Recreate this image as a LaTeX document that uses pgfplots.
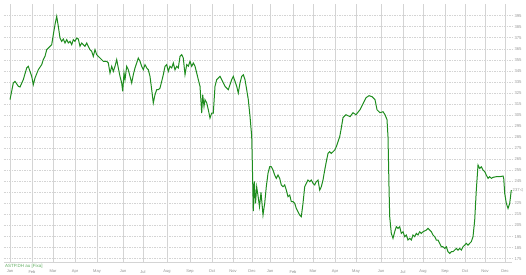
\documentclass[border=0pt]{standalone}
\usepackage{pgfplots}
\pgfplotsset{compat=1.18}
\usepackage{fontspec}
\setmainfont{Liberation Sans}
\definecolor{linegreen}{RGB}{30,140,30}
\definecolor{gridgray}{RGB}{212,212,212}
\begin{document}
\begin{tikzpicture}
\useasboundingbox (-4pt,-13pt) rectangle (522pt,262pt);
\begin{axis}[
  at={(0,0)}, anchor=south west,
  x=1pt, y=1.105pt,
  xmin=4, xmax=512, ymin=172, ymax=405.5,
  axis x line*=bottom, axis y line*=right,
  x axis line style={gridgray,-}, y axis line style={draw=none},
  xtick={10,32,53,75,97,123,143,167,190,212,233,252,270,293,313,335,356,381,403,423,445,465,485,505},
  xticklabels={Jan,Feb,Mar,Apr,May,Jun,Jul,Aug,Sep,Oct,Nov,Dec,Jan,Feb,Mar,Apr,May,Jun,Jul,Aug,Sep,Oct,Nov,Dec},
  xticklabel style={font=\fontsize{4}{4.5}\selectfont, text=gray!90, anchor=north, inner sep=0pt, yshift=-8pt},
  ytick={175,185,195,205,215,225,245,255,265,275,285,295,305,315,325,335,345,355,365,375,385,395},
  extra y ticks={235},
  extra y tick labels={},
  extra y tick style={grid=major},
  major tick length=0pt,
  grid=major,
  x grid style={gridgray, line width=0.4pt},
  y grid style={gridgray, line width=0.4pt, dash pattern=on 1.5pt off 1pt},
  yticklabel style={font=\fontsize{4.2}{5}\selectfont, text=gray!80, xshift=-1pt},
  /pgf/number format/assume math mode=true,
  clip=false,
]
\addplot[linegreen, line width=1pt] table {
x v
10.0 318.9
13.3 334.0
15.0 335.5
18.3 331.0
20.0 330.4
23.3 337.0
26.7 347.6
28.3 349.1
31.7 340.0
33.3 332.5
35.0 338.5
38.3 346.0
41.7 350.6
43.3 355.1
45.0 358.1
46.7 364.1
50.0 367.2
51.7 368.7
53.3 377.7
55.0 386.8
56.7 394.3
58.3 385.3
60.0 374.7
61.7 371.7
63.3 373.8
65.0 370.2
66.7 373.2
68.3 370.2
70.0 371.7
71.7 368.7
73.3 373.2
75.0 371.7
76.7 374.7
78.3 373.8
80.0 367.2
81.7 370.2
83.3 368.7
85.0 367.2
86.7 370.2
88.3 367.2
90.0 364.1
91.7 362.6
93.3 358.1
95.0 364.1
96.7 359.6
98.3 358.1
100.0 356.6
101.7 355.1
103.3 353.6
106.7 353.6
108.3 352.1
110.0 343.0
111.7 349.1
113.3 344.5
115.0 349.1
116.7 355.1
118.3 347.6
120.0 340.0
121.7 334.0
122.7 326.4
124.0 343.0
125.0 337.0
126.7 349.1
128.3 346.0
130.0 340.0
131.7 334.0
133.3 341.5
135.0 347.6
136.7 352.1
138.3 356.6
140.0 353.6
141.7 349.1
143.3 346.0
145.0 350.6
146.7 347.6
148.3 346.0
150.0 340.0
151.7 327.9
153.3 315.9
155.0 323.4
156.7 327.9
158.3 327.9
160.0 329.4
161.7 335.5
163.3 341.5
165.0 349.1
166.7 350.6
168.3 344.5
170.0 349.1
171.7 347.6
173.3 352.1
175.0 346.0
176.7 349.1
178.3 347.6
180.0 358.1
181.7 359.6
183.3 356.6
185.0 341.5
186.7 350.6
188.3 349.1
190.0 353.6
191.7 349.1
193.3 352.1
195.0 349.1
196.7 343.0
198.3 337.0
200.0 331.0
201.7 306.8
202.7 323.4
204.0 312.8
205.0 318.9
206.7 315.9
208.3 309.8
210.0 302.3
211.7 306.8
213.3 306.8
215.0 331.0
216.7 337.0
218.3 338.5
220.0 340.0
221.7 337.0
223.3 334.0
225.0 331.0
226.7 329.4
228.3 327.9
230.0 332.5
231.7 337.0
233.3 340.0
235.0 335.5
236.7 331.0
238.3 324.9
240.0 334.0
241.7 340.0
243.3 341.5
245.0 337.0
246.7 327.9
248.3 318.9
250.0 303.8
251.7 285.7
252.3 262.0
253.3 218.0
254.3 245.0
255.5 225.0
256.7 240.0
258.0 232.0
259.5 222.0
261.0 235.0
262.0 225.0
263.0 214.5
264.7 225.1
266.3 240.2
268.0 252.2
269.7 258.2
271.3 258.2
273.0 255.2
274.7 250.7
276.3 247.7
278.0 250.7
279.7 247.7
281.3 241.7
283.0 240.1
284.7 241.7
286.3 237.1
288.0 231.1
289.7 232.6
291.3 226.6
293.0 226.6
294.7 225.1
296.3 220.5
298.0 217.5
299.7 214.5
301.3 213.0
303.0 225.1
304.7 240.1
306.3 243.2
308.0 246.2
309.7 244.7
311.3 246.2
313.0 243.2
314.7 241.7
316.3 244.7
318.0 246.2
319.7 237.1
321.3 240.1
323.0 246.2
324.7 255.2
326.3 262.8
328.0 270.3
329.7 271.8
331.3 270.3
333.0 271.8
334.7 273.3
336.3 276.3
338.0 280.9
339.7 285.4
341.0 291.7
343.0 302.6
346.0 305.3
350.0 303.5
353.0 307.1
356.0 305.3
360.0 309.8
363.0 315.3
366.0 320.7
369.0 322.5
372.0 321.6
375.0 318.9
377.0 309.8
380.0 307.1
383.0 308.0
385.0 305.3
387.0 300.8
388.0 285.4
389.0 240.1
389.7 213.0
391.3 197.9
393.0 193.4
394.7 199.4
396.3 203.9
398.0 202.4
399.7 203.9
401.3 197.9
403.0 199.4
404.7 194.9
406.3 196.4
408.0 191.9
409.7 193.4
411.3 191.9
413.0 196.4
414.7 194.9
416.3 197.9
418.0 196.4
419.7 199.4
421.3 197.9
423.0 199.4
426.3 200.9
428.0 202.4
429.7 200.9
431.3 199.4
433.0 196.4
434.7 194.9
436.3 191.9
438.0 191.9
439.7 188.9
441.3 185.8
443.0 185.8
444.7 184.3
446.3 185.8
448.0 181.3
449.7 179.8
451.3 181.3
453.0 181.3
454.7 182.8
456.3 184.3
458.0 182.8
459.7 184.3
461.3 182.8
463.0 185.8
464.7 187.3
466.3 188.9
468.0 187.3
469.7 188.9
471.3 190.4
473.0 194.9
474.7 210.0
476.3 237.1
478.0 259.7
479.7 256.7
481.3 258.2
483.0 255.2
484.7 253.7
486.3 250.7
488.0 247.7
489.7 249.2
491.3 247.7
493.0 248.6
496.3 249.2
499.7 249.2
503.0 249.8
503.7 247.7
504.7 234.1
506.3 225.1
508.0 220.5
509.7 225.1
511.3 237.1
};
\node[anchor=west, font=\fontsize{4.2}{5}\selectfont, text=gray!80, inner sep=0pt] at (axis cs:512.5,237.1) {237$\scriptscriptstyle\triangleleft$};
\node[anchor=west, font=\fontsize{4.5}{5}\selectfont, text=linegreen!70, inner sep=0pt] at (axis cs:5,168.0) {ASTP.DH au [Fixa]};
\end{axis}
\end{tikzpicture}
\end{document}
